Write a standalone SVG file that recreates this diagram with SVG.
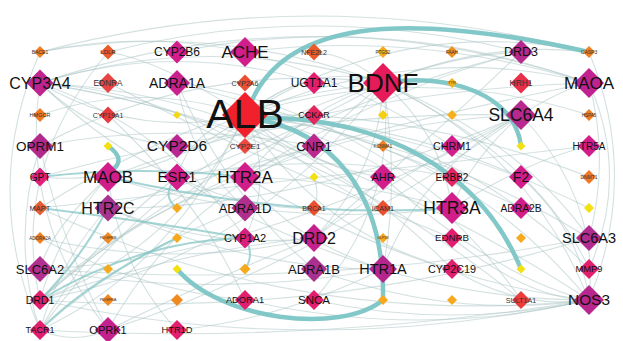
<svg xmlns="http://www.w3.org/2000/svg" width="623" height="341" viewBox="0 0 623 341">
<style>
.e{fill:none;stroke:#a9c3c3;stroke-width:1.1;opacity:.5}
.m{fill:none;stroke:#86c6c6;stroke-width:2;opacity:.75}
.t{fill:none;stroke:#7cc5c5;stroke-width:4.5;opacity:.95}
text{font-family:"Liberation Sans",Arial,sans-serif;text-anchor:middle;fill:#111}
.s{fill:#333}
</style>
<rect width="623" height="341" fill="#fff"/>
<g id="edges">
<path class="e" d="M40,52 Q314,-20 589,52"/>
<path class="e" d="M40,83 Q314,-10 589,83"/>
<path class="e" d="M108,52 Q314,0 521,52"/>
<path class="e" d="M40,52 Q-20,190 40,330"/>
<path class="e" d="M108,52 Q10,170 40,300"/>
<path class="e" d="M589,52 Q640,176 589,300"/>
<path class="e" d="M589,83 Q630,176 589,269"/>
<path class="e" d="M40,300 Q314,360 589,300"/>
<path class="e" d="M40,330 Q315,345 589,300"/>
<path class="e" d="M245,115 Q136,140 40,83"/>
<path class="e" d="M245,115 Q220,150 177,146"/>
<path class="e" d="M245,115 Q454,138 589,300"/>
<path class="e" d="M245,115 Q448,123 589,269"/>
<path class="e" d="M245,115 Q404,14 589,52"/>
<path class="e" d="M245,115 Q190,130 177,177"/>
<path class="e" d="M245,115 Q275,177 245,238"/>
<path class="e" d="M245,115 Q317,233 452,269"/>
<path class="e" d="M245,115 Q420,152 521,300"/>
<path class="e" d="M245,115 Q154,187 40,177"/>
<path class="e" d="M245,115 Q142,80 40,115"/>
<path class="e" d="M245,115 Q160,60 108,52"/>
<path class="e" d="M245,115 Q330,190 383,208"/>
<path class="e" d="M245,115 Q390,120 521,177"/>
<path class="e" d="M245,115 Q320,170 383,177"/>
<path class="e" d="M245,115 Q290,80 314,83"/>
<path class="e" d="M245,115 Q315,60 383,83"/>
<path class="e" d="M245,115 Q179,248 40,300"/>
<path class="e" d="M245,115 Q170,270 40,330"/>
<path class="e" d="M245,115 Q420,40 589,83"/>
<path class="e" d="M245,115 Q417,60 589,115"/>
<path class="e" d="M245,115 Q420,110 589,177"/>
<path class="e" d="M245,115 Q430,130 589,208"/>
<path class="e" d="M245,115 Q430,140 589,238"/>
<path class="e" d="M383,83 Q380,170 314,238"/>
<path class="e" d="M383,83 Q300,110 245,177"/>
<path class="e" d="M383,83 Q254,260 40,300"/>
<path class="e" d="M383,83 Q180,140 40,330"/>
<path class="e" d="M383,83 Q529,150 589,300"/>
<path class="e" d="M383,83 Q520,140 589,238"/>
<path class="e" d="M383,83 Q540,160 589,269"/>
<path class="e" d="M383,83 Q340,120 314,146"/>
<path class="e" d="M383,83 Q260,150 177,177"/>
<path class="e" d="M383,83 Q211,30 40,83"/>
<path class="e" d="M383,83 Q200,60 40,146"/>
<path class="e" d="M383,83 Q400,200 314,300"/>
<path class="e" d="M383,83 Q210,100 40,208"/>
<path class="e" d="M383,83 Q211,20 40,52"/>
<path class="e" d="M383,83 Q486,40 589,52"/>
<path class="e" d="M383,83 Q350,55 314,52"/>
<path class="e" d="M383,83 Q452,55 521,52"/>
<path class="e" d="M383,83 Q440,130 452,208"/>
<path class="e" d="M383,83 Q400,180 383,269"/>
<path class="e" d="M40,83 Q100,140 177,146"/>
<path class="e" d="M40,83 Q283,94 452,269"/>
<path class="e" d="M40,83 Q170,130 245,238"/>
<path class="e" d="M40,83 Q150,90 245,146"/>
<path class="e" d="M40,83 Q177,40 314,83"/>
<path class="e" d="M40,83 Q300,120 521,300"/>
<path class="e" d="M40,83 Q330,130 589,300"/>
<path class="e" d="M40,83 Q110,150 177,177"/>
<path class="e" d="M40,83 Q20,220 108,330"/>
<path class="e" d="M40,300 Q120,220 245,177"/>
<path class="e" d="M40,300 Q180,250 314,238"/>
<path class="e" d="M40,300 Q150,200 314,146"/>
<path class="e" d="M40,300 Q60,230 108,177"/>
<path class="e" d="M40,330 Q130,250 245,208"/>
<path class="e" d="M40,330 Q60,260 108,208"/>
<path class="e" d="M40,330 Q10,240 40,146"/>
<path class="e" d="M40,330 Q74,345 108,330"/>
<path class="e" d="M40,300 Q320,320 589,238"/>
<path class="e" d="M40,300 Q250,120 521,52"/>
<path class="e" d="M40,330 Q90,240 177,177"/>
<path class="e" d="M589,300 Q380,300 177,177"/>
<path class="e" d="M589,300 Q420,280 245,177"/>
<path class="e" d="M589,300 Q450,320 314,269"/>
<path class="e" d="M589,300 Q500,280 383,177"/>
<path class="e" d="M589,300 Q450,330 314,300"/>
<path class="e" d="M589,300 Q420,340 245,300"/>
<path class="e" d="M589,300 Q530,300 452,238"/>
<path class="e" d="M589,300 Q520,310 452,269"/>
<path class="e" d="M589,300 Q600,200 521,115"/>
<path class="e" d="M589,300 Q580,230 521,177"/>
<path class="e" d="M589,300 Q300,330 40,208"/>
<path class="e" d="M521,115 Q260,260 40,269"/>
<path class="e" d="M521,115 Q420,170 383,269"/>
<path class="e" d="M521,115 Q380,120 245,177"/>
<path class="e" d="M521,115 Q300,210 108,208"/>
<path class="e" d="M521,115 Q560,90 589,83"/>
<path class="e" d="M521,115 Q470,160 452,208"/>
<path class="e" d="M521,115 Q420,160 314,238"/>
<path class="e" d="M521,115 Q300,270 108,330"/>
<path class="e" d="M452,208 Q350,180 245,177"/>
<path class="e" d="M452,208 Q280,230 108,177"/>
<path class="e" d="M452,208 Q530,160 589,146"/>
<path class="e" d="M452,208 Q320,100 177,83"/>
<path class="e" d="M589,83 Q340,90 108,177"/>
<path class="e" d="M589,83 Q610,160 589,238"/>
<path class="e" d="M589,83 Q350,130 108,208"/>
<path class="e" d="M589,83 Q417,30 245,52"/>
<path class="e" d="M589,83 Q383,10 177,52"/>
<path class="e" d="M108,208 Q250,270 383,269"/>
<path class="e" d="M108,208 Q210,250 314,238"/>
<path class="e" d="M108,177 Q50,230 40,269"/>
<path class="e" d="M108,177 Q120,270 177,330"/>
<path class="e" d="M108,330 Q60,240 40,146"/>
<path class="e" d="M108,330 Q180,200 314,146"/>
<path class="e" d="M108,330 Q210,280 314,238"/>
<path class="e" d="M40,269 Q320,290 589,238"/>
<path class="e" d="M40,269 Q210,300 383,269"/>
<path class="e" d="M177,330 Q280,320 383,269"/>
<path class="e" d="M245,177 Q290,240 383,269"/>
<path class="e" d="M245,177 Q380,90 521,52"/>
<path class="e" d="M177,83 Q230,200 314,269"/>
<path class="e" d="M177,83 Q190,160 245,208"/>
<path class="e" d="M177,83 Q360,130 521,208"/>
<path class="e" d="M245,52 Q350,80 452,146"/>
<path class="e" d="M245,52 Q142,30 40,52"/>
<path class="e" d="M40,146 Q177,120 314,146"/>
<path class="e" d="M314,238 Q440,130 521,52"/>
<path class="e" d="M177,177 Q314,150 452,177"/>
<path class="e" d="M177,177 Q245,210 314,208"/>
<path class="e" d="M40,238 Q140,290 245,300"/>
<path class="e" d="M40,238 Q177,270 314,238"/>
<path class="e" d="M108,83 Q280,170 452,238"/>
<path class="e" d="M108,115 Q200,200 245,300"/>
<path class="e" d="M40,177 Q280,110 521,115"/>
<path class="e" d="M40,208 Q300,180 589,146"/>
<path class="e" d="M314,177 Q320,195 314,208"/>
<path class="m" d="M40,300 Q140,240 245,238"/>
<path class="m" d="M40,330 Q90,280 177,238"/>
<path class="m" d="M40,300 Q80,260 108,208"/>
<path class="m" d="M40,177 Q140,165 245,177"/>
<path class="m" d="M40,208 Q140,220 245,238"/>
<path class="m" d="M177,177 Q160,195 177,208"/>
<path class="m" d="M245,238 Q255,255 245,269"/>
<path class="m" d="M108,177 Q300,220 452,208"/>
<path class="t" d="M108,146 Q128,160 110,172"/>
<path class="t" d="M248,110 C280,20 400,10 589,52"/>
<path class="t" d="M383,83 C450,72 515,95 521,146"/>
<path class="t" d="M250,118 C330,130 385,190 383,300"/>
<path class="t" d="M255,118 C380,115 480,170 521,269"/>
<path class="t" d="M177,269 C220,320 340,335 383,300"/>
</g>
<g id="BACE1"><polygon points="40,46 46,52 40,58 34,52" fill="#f07f22"/><text x="40" y="53.8" font-size="5" class="s">BACE1</text></g>
<g id="LDLR"><polygon points="108,44.5 115.5,52 108,59.5 100.5,52" fill="#ea5a2a"/><text x="108" y="54" font-size="6" class="s">LDLR</text></g>
<g id="CYP2B6"><polygon points="177,40.5 188.5,52 177,63.5 165.5,52" fill="#d21e8a"/><text x="177" y="56.2" font-size="12">CYP2B6</text></g>
<g id="ACHE"><polygon points="245,37 260,52 245,67 230,52" fill="#d21e8a"/><text x="245" y="58" font-size="17">ACHE</text></g>
<g id="NFE2L2"><polygon points="314,43.5 322.5,52 314,60.5 305.5,52" fill="#ea5a2a"/><text x="314" y="54.5" font-size="7" class="s">NFE2L2</text></g>
<g id="PTGS2"><polygon points="383,46 389,52 383,58 377,52" fill="#f6a91c"/><text x="383" y="53.5" font-size="4.5" class="s">PTGS2</text></g>
<g id="FAAH"><polygon points="452,46 458,52 452,58 446,52" fill="#f0901e"/><text x="452" y="53.5" font-size="4.5" class="s">FAAH</text></g>
<g id="DRD3"><polygon points="521,40 533,52 521,64 509,52" fill="#b52a8c"/><text x="521" y="56.4" font-size="12.5">DRD3</text></g>
<g id="CASP3"><polygon points="589,46 595,52 589,58 583,52" fill="#f07f22"/><text x="589" y="53.8" font-size="5" class="s">CASP3</text></g>
<g id="CYP3A4"><polygon points="40,69.5 53.5,83 40,96.5 26.5,83" fill="#c0258f"/><text x="40" y="88.6" font-size="16">CYP3A4</text></g>
<g id="EDNRA"><polygon points="108,73 118,83 108,93 98,83" fill="#e84444"/><text x="108" y="86" font-size="8.3" class="s">EDNRA</text></g>
<g id="ADRA1A"><polygon points="177,70 190,83 177,96 164,83" fill="#c8228c"/><text x="177" y="88" font-size="14">ADRA1A</text></g>
<g id="CYP2A6"><polygon points="245,74.5 253.5,83 245,91.5 236.5,83" fill="#ea5034"/><text x="245" y="85.5" font-size="7" class="s">CYP2A6</text></g>
<g id="UGT1A1"><polygon points="314,72 325,83 314,94 303,83" fill="#e21f6e"/><text x="314" y="87.2" font-size="12">UGT1A1</text></g>
<g id="BDNF"><polygon points="383,63 403,83 383,103 363,83" fill="#e51b5a"/><text x="383" y="92.2" font-size="26">BDNF</text></g>
<g id="TTR"><polygon points="452,78 457,83 452,88 447,83" fill="#f6b01c"/><text x="452" y="84.3" font-size="4" class="s">TTR</text></g>
<g id="HRH1"><polygon points="521,72.5 531.5,83 521,93.5 510.5,83" fill="#e8304a"/><text x="521" y="86" font-size="8.4" class="s">HRH1</text></g>
<g id="MAOA"><polygon points="589,68 604,83 589,98 574,83" fill="#c0238f"/><text x="589" y="89" font-size="17">MAOA</text></g>
<g id="HMGCR"><polygon points="40,108 47,115 40,122 33,115" fill="#f07a22"/><text x="40" y="117" font-size="5.5" class="s">HMGCR</text></g>
<g id="CYP19A1"><polygon points="108,106.5 116.5,115 108,123.5 99.5,115" fill="#e83a3e"/><text x="108" y="117.5" font-size="7" class="s">CYP19A1</text></g>
<g id="n177_115"><polygon points="177,111 181,115 177,119 173,115" fill="#f3d812"/></g>
<g id="ALB"><polygon points="245,92 268,115 245,138 222,115" fill="#f0202c"/><text x="245" y="128" font-size="41">ALB</text></g>
<g id="CCKAR"><polygon points="314,105 324,115 314,125 304,115" fill="#e5265c"/><text x="314" y="118.2" font-size="9">CCKAR</text></g>
<g id="n383_115"><polygon points="383,110 388,115 383,120 378,115" fill="#f3d012"/></g>
<g id="n452_115"><polygon points="452,110 457,115 452,120 447,115" fill="#f6b01c"/></g>
<g id="SLC6A4"><polygon points="521,100 536,115 521,130 506,115" fill="#b8298d"/><text x="521" y="121.2" font-size="17.5">SLC6A4</text></g>
<g id="HSPA5"><polygon points="589,109 595,115 589,121 583,115" fill="#f07f22"/><text x="589" y="116.5" font-size="4.5" class="s">HSPA5</text></g>
<g id="OPRM1"><polygon points="40,133 53,146 40,159 27,146" fill="#b02a8c"/><text x="40" y="150.7" font-size="13.5">OPRM1</text></g>
<g id="n108_146"><polygon points="108,141.5 112.5,146 108,150.5 103.5,146" fill="#f3e010"/></g>
<g id="CYP2D6"><polygon points="177,134 189,146 177,158 165,146" fill="#b82890"/><text x="177" y="151.4" font-size="15.5">CYP2D6</text></g>
<g id="CYP2E1"><polygon points="245,138 253,146 245,154 237,146" fill="#ec4a40"/><text x="245" y="148.8" font-size="8" class="s">CYP2E1</text></g>
<g id="CNR1"><polygon points="314,133.5 326.5,146 314,158.5 301.5,146" fill="#bb2890"/><text x="314" y="150.5" font-size="13">CNR1</text></g>
<g id="KCNMA1"><polygon points="383,140 389,146 383,152 377,146" fill="#f07f22"/><text x="383" y="147.5" font-size="4.5" class="s">KCNMA1</text></g>
<g id="CHRM1"><polygon points="452,135 463,146 452,157 441,146" fill="#d21e8a"/><text x="452" y="149.7" font-size="10.7">CHRM1</text></g>
<g id="n521_146"><polygon points="521,141.5 525.5,146 521,150.5 516.5,146" fill="#f3e010"/></g>
<g id="HTR5A"><polygon points="589,135 600,146 589,157 578,146" fill="#d21e8a"/><text x="589" y="149.5" font-size="10">HTR5A</text></g>
<g id="GPT"><polygon points="40,167.5 49.5,177 40,186.5 30.5,177" fill="#e0207a"/><text x="40" y="180.5" font-size="10">GPT</text></g>
<g id="MAOB"><polygon points="108,162 123,177 108,192 93,177" fill="#d21e8a"/><text x="108" y="183" font-size="17">MAOB</text></g>
<g id="ESR1"><polygon points="177,163.5 190.5,177 177,190.5 163.5,177" fill="#d21e8a"/><text x="177" y="182.2" font-size="15">ESR1</text></g>
<g id="HTR2A"><polygon points="245,162 260,177 245,192 230,177" fill="#d21e8a"/><text x="245" y="183" font-size="17">HTR2A</text></g>
<g id="n314_177"><polygon points="314,172.5 318.5,177 314,181.5 309.5,177" fill="#f3e010"/></g>
<g id="AHR"><polygon points="383,164 396,177 383,190 370,177" fill="#d21e8a"/><text x="383" y="180.8" font-size="11">AHR</text></g>
<g id="ERBB2"><polygon points="452,167 462,177 452,187 442,177" fill="#e12565"/><text x="452" y="180.5" font-size="10">ERBB2</text></g>
<g id="F2"><polygon points="521,165 533,177 521,189 509,177" fill="#d21e8a"/><text x="521" y="182" font-size="14">F2</text></g>
<g id="DNMT1"><polygon points="589,170 596,177 589,184 582,177" fill="#ee7a28"/><text x="589" y="178.8" font-size="5" class="s">DNMT1</text></g>
<g id="MAPT"><polygon points="40,200.5 47.5,208 40,215.5 32.5,208" fill="#e85a30"/><text x="40" y="210.6" font-size="7.5" class="s">MAPT</text></g>
<g id="HTR2C"><polygon points="108,194.5 121.5,208 108,221.5 94.5,208" fill="#a8348f"/><text x="108" y="213.6" font-size="16">HTR2C</text></g>
<g id="n177_208"><polygon points="177,203 182,208 177,213 172,208" fill="#f6a91c"/></g>
<g id="ADRA1D"><polygon points="245,194.5 258.5,208 245,221.5 231.5,208" fill="#b02f8d"/><text x="245" y="212.6" font-size="13">ADRA1D</text></g>
<g id="BRCA1"><polygon points="314,200 322,208 314,216 306,208" fill="#ea5030"/><text x="314" y="210.5" font-size="7" class="s">BRCA1</text></g>
<g id="ICAM1"><polygon points="383,200 391,208 383,216 375,208" fill="#ea5030"/><text x="383" y="210.5" font-size="7.3" class="s">ICAM1</text></g>
<g id="HTR3A"><polygon points="452,192 468,208 452,224 436,208" fill="#d21e8a"/><text x="452" y="214.2" font-size="17.5">HTR3A</text></g>
<g id="ADRA2B"><polygon points="521,197 532,208 521,219 510,208" fill="#d21e8a"/><text x="521" y="211.6" font-size="10.3">ADRA2B</text></g>
<g id="n589_208"><polygon points="589,203 594,208 589,213 584,208" fill="#f3e010"/></g>
<g id="ADORA2A"><polygon points="40,232 46,238 40,244 34,238" fill="#f07f22"/><text x="40" y="239.5" font-size="4.5" class="s">ADORA2A</text></g>
<g id="PDGFRB"><polygon points="108,232 114,238 108,244 102,238" fill="#f08a20"/><text x="108" y="239.4" font-size="4" class="s">PDGFRB</text></g>
<g id="n177_238"><polygon points="177,233 182,238 177,243 172,238" fill="#f6a91c"/></g>
<g id="CYP1A2"><polygon points="245,227.5 255.5,238 245,248.5 234.5,238" fill="#d8207f"/><text x="245" y="241.8" font-size="11">CYP1A2</text></g>
<g id="DRD2"><polygon points="314,224 328,238 314,252 300,238" fill="#c4218e"/><text x="314" y="243.6" font-size="16">DRD2</text></g>
<g id="GLP1R"><polygon points="383,233 388,238 383,243 378,238" fill="#f6a91c"/><text x="383" y="239.2" font-size="3.5" class="s">GLP1R</text></g>
<g id="EDNRB"><polygon points="452,228 462,238 452,248 442,238" fill="#e21f6e"/><text x="452" y="241.4" font-size="9.7">EDNRB</text></g>
<g id="n521_238"><polygon points="521,233 526,238 521,243 516,238" fill="#f6a91c"/></g>
<g id="SLC6A3"><polygon points="589,225 602,238 589,251 576,238" fill="#b02c8e"/><text x="589" y="243" font-size="14.5">SLC6A3</text></g>
<g id="SLC6A2"><polygon points="40,256 53,269 40,282 27,269" fill="#b02f8f"/><text x="40" y="273.6" font-size="13">SLC6A2</text></g>
<g id="n108_269"><polygon points="108,264 113,269 108,274 103,269" fill="#f6a91c"/></g>
<g id="n177_269"><polygon points="177,264.5 181.5,269 177,273.5 172.5,269" fill="#f3e010"/></g>
<g id="n245_269"><polygon points="245,263.5 250.5,269 245,274.5 239.5,269" fill="#f6a91c"/></g>
<g id="ADRA1B"><polygon points="314,256 327,269 314,282 301,269" fill="#aa3090"/><text x="314" y="273.6" font-size="13">ADRA1B</text></g>
<g id="HTR1A"><polygon points="383,255 397,269 383,283 369,269" fill="#b5268c"/><text x="383" y="274" font-size="14.5">HTR1A</text></g>
<g id="CYP2C19"><polygon points="452,259 462,269 452,279 442,269" fill="#e21f6e"/><text x="452" y="272.8" font-size="10.8">CYP2C19</text></g>
<g id="n521_269"><polygon points="521,264.5 525.5,269 521,273.5 516.5,269" fill="#f3e010"/></g>
<g id="MMP9"><polygon points="589,259 599,269 589,279 579,269" fill="#e21f6e"/><text x="589" y="272.3" font-size="9.3">MMP9</text></g>
<g id="DRD1"><polygon points="40,290 50,300 40,310 30,300" fill="#e21f6e"/><text x="40" y="303.7" font-size="10.5">DRD1</text></g>
<g id="PDGFRA"><polygon points="108,294 114,300 108,306 102,300" fill="#f08a20"/><text x="108" y="301.4" font-size="4" class="s">PDGFRA</text></g>
<g id="n177_300"><polygon points="177,294 183,300 177,306 171,300" fill="#f08a20"/></g>
<g id="ADORA1"><polygon points="245,290 255,300 245,310 235,300" fill="#e21f6e"/><text x="245" y="303.3" font-size="9.3">ADORA1</text></g>
<g id="SNCA"><polygon points="314,290 324,300 314,310 304,300" fill="#e21f6e"/><text x="314" y="304" font-size="11.5">SNCA</text></g>
<g id="n383_300"><polygon points="383,295 388,300 383,305 378,300" fill="#f6a91c"/></g>
<g id="n452_300"><polygon points="452,295 457,300 452,305 447,300" fill="#f6a91c"/></g>
<g id="SULT1A1"><polygon points="521,291 530,300 521,309 512,300" fill="#ea3c3a"/><text x="521" y="302.5" font-size="7.2" class="s">SULT1A1</text></g>
<g id="NOS3"><polygon points="589,285 604,300 589,315 574,300" fill="#b8278e"/><text x="589" y="305.4" font-size="15.4">NOS3</text></g>
<g id="TACR1"><polygon points="40,320 50,330 40,340 30,330" fill="#e21f6e"/><text x="40" y="333.2" font-size="9">TACR1</text></g>
<g id="OPRK1"><polygon points="108,317 121,330 108,343 95,330" fill="#c4218e"/><text x="108" y="333.9" font-size="11">OPRK1</text></g>
<g id="HTR1D"><polygon points="177,320 187,330 177,340 167,330" fill="#e21f6e"/><text x="177" y="333.3" font-size="9.3">HTR1D</text></g>
</svg>
